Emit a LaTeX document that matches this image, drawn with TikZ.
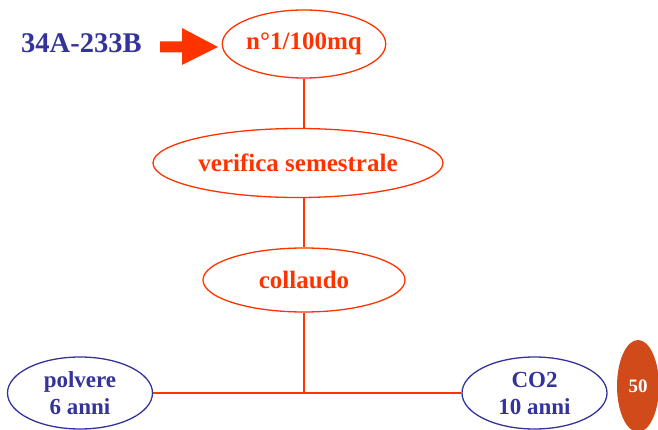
\documentclass[tikz,border=0pt]{standalone}
\usepackage{fontspec}
\setmainfont{Liberation Serif}
\usetikzlibrary{shapes.geometric}
\definecolor{ored}{HTML}{FF3300}
\definecolor{dblue}{HTML}{333399}
\definecolor{burnt}{HTML}{D04A1A}
\begin{document}
\begin{tikzpicture}[x=1pt,y=-1pt,
  oval/.style={ellipse,draw=ored,line width=1.3pt,inner sep=0pt,text=ored,font=\bfseries\fontsize{25}{28}\selectfont},
  bluoval/.style={ellipse,draw=dblue,line width=1.3pt,inner sep=0pt,text=dblue,align=center,font=\bfseries\fontsize{23}{27}\selectfont},
  link/.style={draw=ored,line width=1.3pt}]
\useasboundingbox (0,0) rectangle (658,430);
\node[oval,minimum width=152pt,minimum height=68pt] (n1) at (304,44) {n°1/100mq};
\node[oval,minimum width=290pt,minimum height=69pt] (ver) at (298,163) {verifica semestrale};
\node[oval,minimum width=202pt,minimum height=64pt] (col) at (304,280) {collaudo};
\node[bluoval,minimum width=145pt,minimum height=72pt] (pol) at (80,393) {polvere\\6 anni};
\node[bluoval,minimum width=145pt,minimum height=72pt] (co2) at (534.5,393) {CO2\\10 anni};
\node[ellipse,fill=burnt,inner sep=0pt,minimum width=42pt,minimum height=92pt,text=white,font=\bfseries\fontsize{19}{21}\selectfont] (fifty) at (638,386) {50};
\node[text=dblue,font=\bfseries\fontsize{28.5}{31}\selectfont,anchor=west,inner sep=0pt] (code) at (21,43) {34A-233B};
\coordinate (j) at (304,393);
\fill[ored] (160,41.5) -- (182,41.5) -- (182,28) -- (218,47) -- (182,65) -- (182,52.5) -- (160,52.5) -- cycle;
\draw[link] (n1.south) -- (n1.south |- ver.north);
\draw[link] (col.north |- ver.south) -- (col.north);
\draw[link] (col.south) -- (j);
\draw[link] (pol.east) -- (co2.west);
\end{tikzpicture}
\end{document}
